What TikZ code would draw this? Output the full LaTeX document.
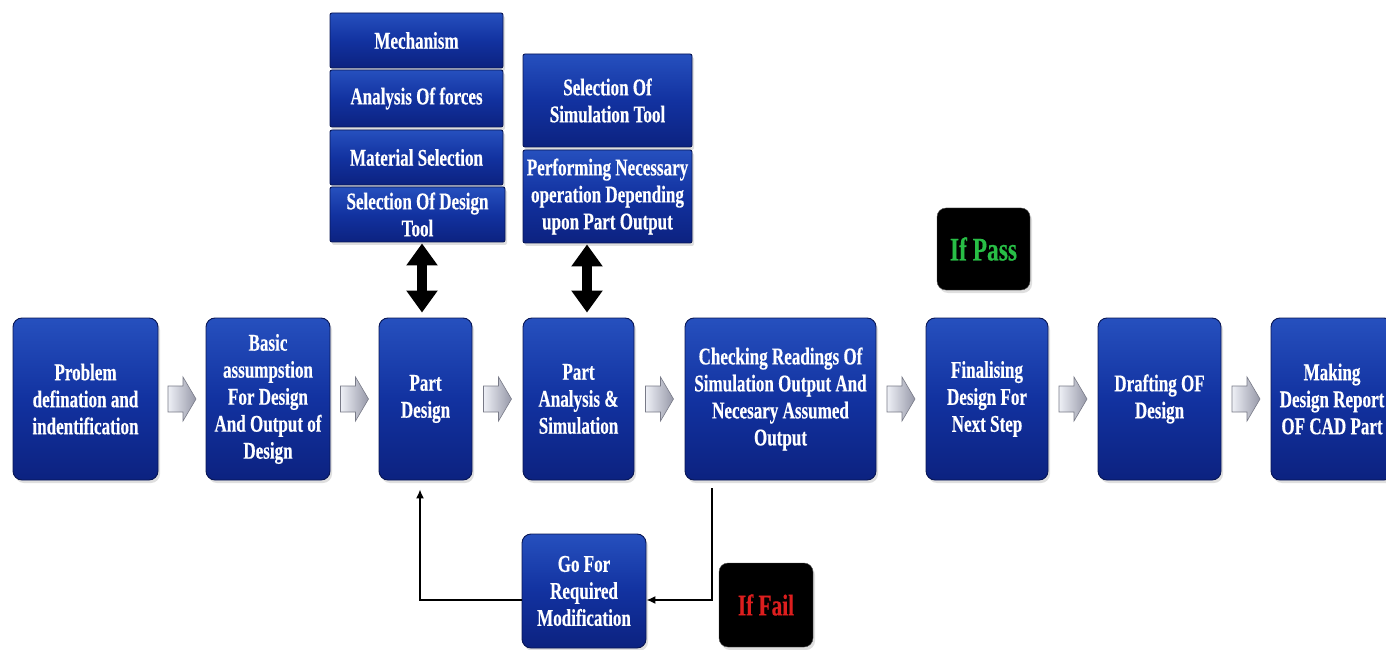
\documentclass[tikz,border=0pt]{standalone}
\usepackage{fontspec}
\setmainfont{Liberation Serif}[FakeStretch=0.71, BoldFeatures={FakeBold=0.4}]
\usetikzlibrary{arrows.meta,calc,shadows}
\definecolor{bxtop}{RGB}{38,80,190}
\definecolor{bxmid}{RGB}{18,50,160}
\definecolor{bxbot}{RGB}{12,34,128}
\definecolor{bxedge}{RGB}{8,22,85}
\definecolor{chevL}{RGB}{238,240,246}
\definecolor{chevR}{RGB}{150,152,168}
\definecolor{chevE}{RGB}{120,122,135}
\definecolor{passgreen}{RGB}{40,190,70}
\definecolor{failred}{RGB}{220,30,30}
\begin{document}
\begin{tikzpicture}[x=1pt,y=1pt,
  box/.style={draw=bxedge, line width=0.9pt, rounded corners=9pt,
    top color=bxtop, bottom color=bxbot, middle color=bxmid, text=white,
    font=\fontsize{24}{27}\selectfont\bfseries, align=center, inner sep=2pt,
    drop shadow={opacity=0.25,shadow xshift=2pt,shadow yshift=-3pt}},
  mainbox/.style={box, minimum height=162pt},
  sbox/.style={box, rounded corners=2pt},
  tag/.style={fill=black, draw=black!70, rounded corners=9pt,
    font=\fontsize{33}{35}\selectfont\bfseries,
    drop shadow={opacity=0.25,shadow xshift=2pt,shadow yshift=-3pt}},
  dbl/.style={line width=10pt, {Triangle[width=30pt,length=22pt]}-{Triangle[width=30pt,length=22pt]}},
  fb/.style={line width=1.5pt, -{Latex[length=9pt,width=8pt]}},
  chev/.pic={\shade[left color=chevL, right color=chevR, draw=chevE, line width=0.6pt]
    (-14,-13) -- (1,-13) -- (1,-22) -- (14,0) -- (1,22) -- (1,13) -- (-14,13) -- cycle;}
]
\useasboundingbox (0,0) rectangle (1386,649);
\clip (0,0) rectangle (1386,649);

% main row
\node[mainbox, minimum width=145pt] (p1) at (85.5,250) {Problem\\defination and\\indentification};
\node[mainbox, minimum width=124pt] (p2) at (268,250) {Basic\\assumpstion\\For Design\\And Output of\\Design};
\node[mainbox, minimum width=93pt] (pd) at (425.5,250) {Part\\Design};
\node[mainbox, minimum width=111pt] (pa) at (578.5,250) {Part\\Analysis \&\\Simulation};
\node[mainbox, minimum width=191pt] (chk) at (780.5,250) {Checking Readings Of\\Simulation Output And\\Necesary Assumed\\Output};
\node[mainbox, minimum width=122pt] (fin) at (987,250) {Finalising\\Design For\\Next Step};
\node[mainbox, minimum width=123pt] (dr) at (1159.5,250) {Drafting OF\\Design};
\node[mainbox, minimum width=122pt] (mk) at (1332,250) {Making\\Design Report\\OF CAD Part};

% chevrons
\foreach \a/\b in {p1/p2,p2/pd,pd/pa,pa/chk,chk/fin,fin/dr,dr/mk}
  \pic at ($(\a.east)!0.5!(\b.west)$) {chev};

% left stack
\node[sbox, minimum width=173pt, minimum height=55pt] (mech) at (416.5,608.5) {Mechanism};
\node[sbox, minimum width=173pt, minimum height=57pt] (aof) at (416.5,550.5) {Analysis Of forces};
\node[sbox, minimum width=173pt, minimum height=55pt] (mat) at (416.5,491.5) {Material Selection};
\node[sbox, minimum width=175pt, minimum height=55pt] (sdt) at (417.5,434.5) {Selection Of Design\\Tool};

% right stack
\node[sbox, minimum width=169pt, minimum height=93pt] (ssim) at (607.5,548.5) {Selection Of\\Simulation Tool};
\node[sbox, minimum width=169pt, minimum height=93pt] (perf) at (607.5,452.5) {Performing Necessary\\operation Depending\\upon Part Output};

% double arrows
\draw[dbl] ([xshift=4.5pt,yshift=-1pt]sdt.south) -- ([xshift=-3.5pt,yshift=5pt]pd.north);
\draw[dbl] ([xshift=-20.5pt,yshift=-1pt]perf.south) -- ([xshift=8.5pt,yshift=5pt]pa.north);

% tags
\node[tag, minimum width=93pt, minimum height=82pt, text=passgreen] (pass) at (983.5,400) {If Pass};
\node[tag, minimum width=94pt, minimum height=84pt, text=failred, font=\fontsize{30}{32}\selectfont\bfseries] (fail) at (766,44) {If Fail};

% modification box
\node[box, minimum width=124pt, minimum height=114pt] (gofor) at (584,58) {Go For\\Required\\Modification};

% feedback
\draw[fb] ([xshift=-68.5pt,yshift=-8pt]chk.south) |- ([yshift=-9pt]gofor.east);
\draw[fb] ([yshift=-9pt]gofor.west) -| ([xshift=-5.5pt,yshift=-9pt]pd.south);
\end{tikzpicture}
\end{document}
